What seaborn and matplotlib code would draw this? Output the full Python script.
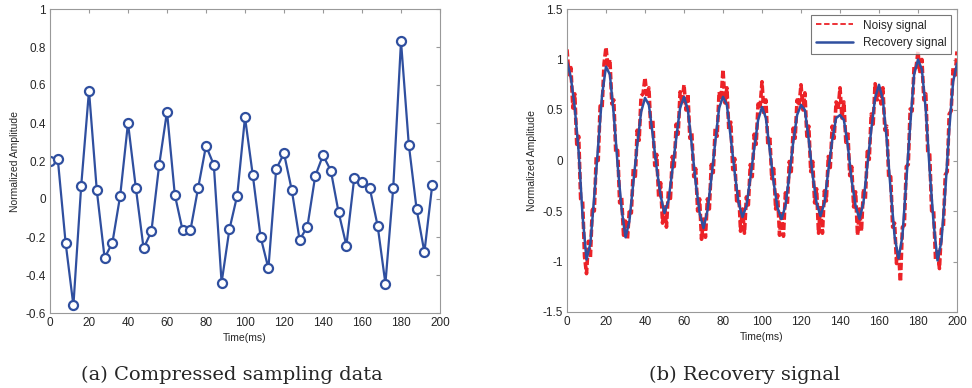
import matplotlib
matplotlib.use("Agg")
import matplotlib.pyplot as plt
import seaborn as sns
import numpy as np

# (a) compressed samples, every 4 ms
t_samples = list(range(0, 200, 4))
amp_samples = [0.20, 0.21, -0.23, -0.56, 0.07, 0.57, 0.045, -0.31, -0.23, 0.018,
               0.40, 0.06, -0.26, -0.17, 0.18, 0.46, 0.023, -0.165, -0.165, 0.06,
               0.28, 0.18, -0.44, -0.16, 0.018, 0.43, 0.125, -0.20, -0.365, 0.158,
               0.24, 0.046, -0.215, -0.145, 0.12, 0.23, 0.15, -0.07, -0.245, 0.109,
               0.09, 0.056, -0.14, -0.445, 0.056, 0.83, 0.286, -0.053, -0.28, 0.072]

# (b) noisy signal, every 1 ms
t_noisy = list(range(0, 201))
amp_noisy = [1.10, 0.85, 0.92, 0.52, 0.66, 0.16, 0.24, -0.38, -0.40, -0.95,
             -1.12, -0.80, -0.96, -0.46, -0.50, 0.04, 0.00, 0.54, 0.52, 0.96,
             1.12, 0.92, 1.00, 0.56, 0.60, 0.08, 0.10, -0.42, -0.36, -0.74,
             -0.60, -0.78, -0.48, -0.52, -0.08, -0.18, 0.30, 0.20, 0.64, 0.66,
             0.82, 0.63, 0.72, 0.30, 0.40, -0.05, 0.06, -0.36, -0.22, -0.62,
             -0.44, -0.66, -0.30, -0.40, 0.04, -0.06, 0.36, 0.26, 0.68, 0.56,
             0.75, 0.50, 0.66, 0.22, 0.28, -0.16, -0.08, -0.50, -0.38, -0.78,
             -0.58, -0.76, -0.38, -0.48, -0.04, -0.12, 0.32, 0.24, 0.68, 0.60,
             0.90, 0.57, 0.72, 0.30, 0.38, -0.09, 0.02, -0.40, -0.28, -0.70,
             -0.48, -0.72, -0.36, -0.44, -0.04, -0.16, 0.26, 0.16, 0.56, 0.52,
             0.78, 0.45, 0.60, 0.15, 0.24, -0.18, -0.08, -0.48, -0.34, -0.74,
             -0.50, -0.75, -0.32, -0.44, -0.01, -0.11, 0.32, 0.22, 0.60, 0.54,
             0.75, 0.50, 0.67, 0.24, 0.34, -0.11, -0.01, -0.42, -0.28, -0.72,
             -0.45, -0.72, -0.30, -0.40, 0.04, -0.07, 0.34, 0.22, 0.58, 0.50,
             0.72, 0.42, 0.58, 0.18, 0.29, -0.15, -0.06, -0.46, -0.31, -0.74,
             -0.48, -0.70, -0.28, -0.38, 0.09, 0.01, 0.46, 0.36, 0.76, 0.60,
             0.72, 0.56, 0.72, 0.30, 0.34, -0.18, -0.16, -0.66, -0.62, -1.02,
             -0.90, -1.20, -0.66, -0.64, -0.06, -0.04, 0.51, 0.49, 0.94, 0.92,
             1.08, 0.86, 1.00, 0.60, 0.66, 0.09, 0.06, -0.50, -0.49, -0.98,
             -0.88, -1.07, -0.68, -0.66, -0.14, -0.11, 0.46, 0.49, 0.92, 0.82,
             1.08]

# (b) recovered signal, every 2 ms
t_rec = list(range(0, 201, 2))
amp_rec = [0.98, 0.82, 0.52, 0.08, -0.55, -0.98, -0.82, -0.35, 0.15, 0.65,
           0.93, 0.85, 0.45, -0.05, -0.48, -0.76, -0.60, -0.22, 0.15, 0.48,
           0.62, 0.55, 0.25, -0.08, -0.35, -0.52, -0.40, -0.10, 0.22, 0.52,
           0.63, 0.50, 0.15, -0.22, -0.52, -0.67, -0.50, -0.18, 0.18, 0.52,
           0.63, 0.55, 0.22, -0.12, -0.42, -0.56, -0.45, -0.18, 0.12, 0.40,
           0.53, 0.42, 0.10, -0.22, -0.47, -0.58, -0.45, -0.15, 0.18, 0.45,
           0.55, 0.50, 0.20, -0.15, -0.42, -0.55, -0.42, -0.10, 0.20, 0.42,
           0.45, 0.40, 0.15, -0.20, -0.45, -0.58, -0.42, -0.05, 0.30, 0.62,
           0.75, 0.60, 0.20, -0.30, -0.75, -0.97, -0.75, -0.20, 0.35, 0.85,
           1.00, 0.90, 0.50, -0.10, -0.62, -0.99, -0.80, -0.30, 0.30, 0.78,
           0.96]

blue = "#2f4f9f"
red = "#ec2227"

sns.set_style("white")
plt.rcParams["font.family"] = ["Liberation Sans", "DejaVu Sans"]

fig = plt.figure(figsize=(9.72, 3.88), dpi=100)
ax1 = fig.add_axes([50 / 972, 75 / 388, 390 / 972, 304 / 388])
ax2 = fig.add_axes([567 / 972, 76 / 388, 390 / 972, 303 / 388])

sns.lineplot(x=t_samples, y=amp_samples, ax=ax1, color=blue, lw=1.6,
             marker="o", markersize=6.5, markerfacecolor="white",
             markeredgecolor=blue, markeredgewidth=1.6)
ax1.set_xlim(0, 200)
ax1.set_ylim(-0.6, 1)
ax1.set_yticks(np.arange(-0.6, 1.01, 0.2))
ax1.set_yticklabels(["-0.6", "-0.4", "-0.2", "0", "0.2", "0.4", "0.6", "0.8", "1"])

sns.lineplot(x=t_noisy, y=amp_noisy, ax=ax2, color=red, lw=2.6,
             linestyle=(0, (2.0, 0.8)), label="Noisy signal")
sns.lineplot(x=t_rec, y=amp_rec, ax=ax2, color=blue, lw=1.8,
             label="Recovery signal")
ax2.set_xlim(0, 200)
ax2.set_ylim(-1.5, 1.5)
ax2.set_yticks(np.arange(-1.5, 1.51, 0.5))
ax2.set_yticklabels(["-1.5", "-1", "-0.5", "0", "0.5", "1", "1.5"])
leg = ax2.legend(loc="upper right", fontsize=8.5, frameon=True, fancybox=False,
                 handlelength=3.2, borderaxespad=0.5, labelspacing=0.45)
leg.get_frame().set_edgecolor("#555555")
leg.get_frame().set_linewidth(0.8)
leg.get_lines()[0].set_linestyle((0, (3, 1.5)))
leg.get_lines()[0].set_linewidth(1.3)

for ax in (ax1, ax2):
    ax.set_xticks(range(0, 201, 20))
    ax.set_xlabel("Time(ms)", fontsize=7.5, labelpad=3)
    ax.set_ylabel("Normalized Amplitude", fontsize=7.5, labelpad=4)
    ax.tick_params(direction="in", top=True, right=True, length=3,
                   color="#999999", labelsize=8.5, pad=3)
    for sp in ax.spines.values():
        sp.set_color("#999999")
        sp.set_linewidth(0.8)

fig.text(232 / 972, 1 - 375 / 388, "(a) Compressed sampling data", ha="center",
         va="center", fontsize=14, family="DejaVu Serif")
fig.text(745 / 972, 1 - 375 / 388, "(b) Recovery signal", ha="center",
         va="center", fontsize=14, family="DejaVu Serif")

fig.savefig("out.png", dpi=100)
